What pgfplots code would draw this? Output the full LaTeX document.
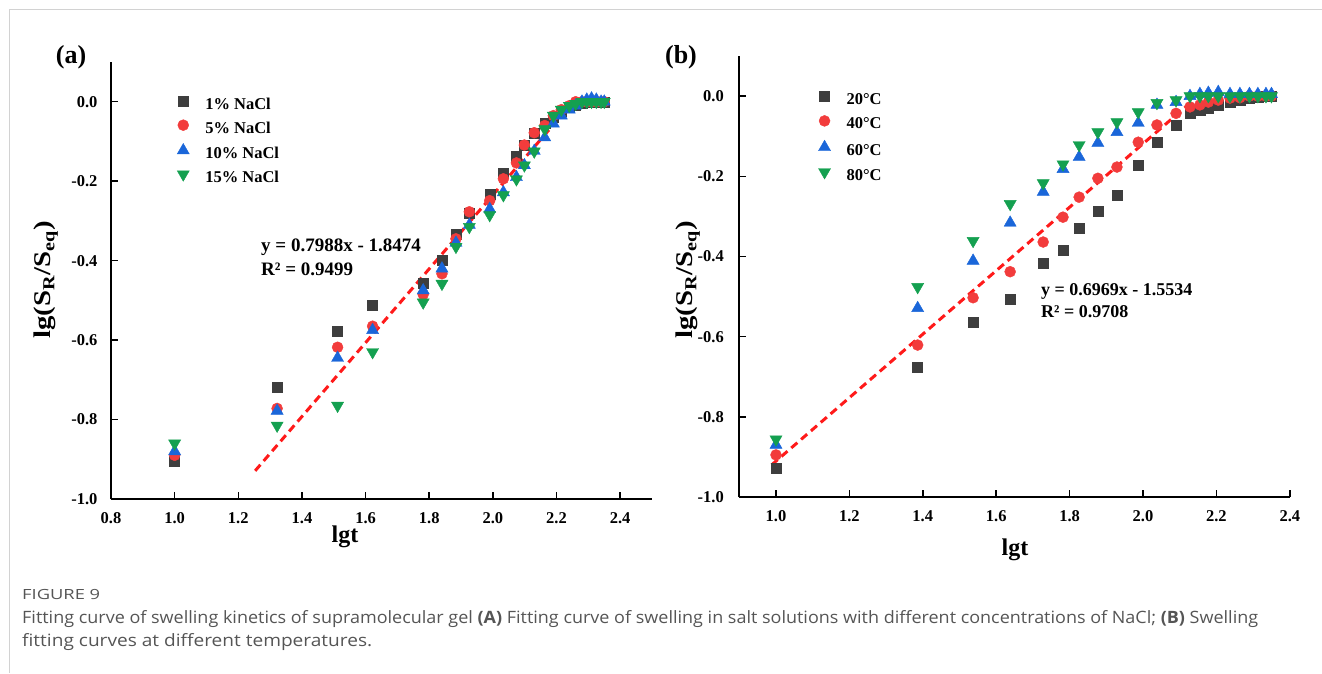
\documentclass[border=0pt]{standalone}
\usepackage{pgfplots}
\pgfplotsset{compat=1.18}
\usepackage{fontspec}
\setmainfont{Liberation Serif}
\newfontfamily\capfont{Open Sans}

\definecolor{cSq}{HTML}{3E3E3E}
\definecolor{cCi}{HTML}{F23C3C}
\definecolor{cUp}{HTML}{1A66D9}
\definecolor{cDn}{HTML}{14A050}
\definecolor{cFit}{HTML}{FF1A1A}
\definecolor{capgray}{HTML}{555555}

\pgfplotsset{
  panel/.style={
    scale only axis,
    axis lines=left,
    axis line style={-, line width=1.8pt},
    tick align=inside,
    major tick length=7pt,
    tick style={line width=1.5pt, black},
    ymin=-1.0, ymax=0.1,
    ytick={-1,-0.8,-0.6,-0.4,-0.2,0},
    ticklabel style={font=\fontsize{16.5}{16.5}\selectfont\bfseries},
    /pgf/number format/fixed,
    /pgf/number format/fixed zerofill,
    /pgf/number format/precision=1,
    /pgf/number format/assume math mode=true,
    xticklabel style={yshift=-10pt},
    clip=false,
    legend cell align=left,
    legend image code/.code={\path[draw=none,fill=none] (-6pt,-3pt) rectangle (22pt,10pt);
      \draw[##1] plot coordinates {(0pt,4.5pt)};},
  },
  sq/.style={only marks, mark=square*, mark size=5pt, color=cSq},
  ci/.style={only marks, mark=*, mark size=5.5pt, color=cCi},
  up/.style={only marks, mark=triangle*, mark size=7pt, color=cUp},
  dn/.style={only marks, mark=triangle*, mark size=7pt, color=cDn, mark options={rotate=180}},
  fit/.style={cFit, line width=3pt, dash pattern=on 8pt off 5pt},
}

\begin{document}
\begin{tikzpicture}
\path[use as bounding box] (0pt,0pt) rectangle (1322pt,-673pt);
\draw[gray!35, line width=1pt] (9pt,-673pt) -- (9pt,-9pt) -- (1322pt,-9pt);

% ---------------- (a) NaCl ----------------
\begin{axis}[panel,
  at={(111pt,-499pt)}, anchor=south west,
  width=541pt, height=437pt,
  xmin=0.8, xmax=2.5,
  xtick={0.8,1,1.2,1.4,1.6,1.8,2,2.2,2.4},
  yticklabel style={xshift=-10pt},
  legend style={at={(0.122,0.923)}, anchor=north west, draw=none, fill=none,
    inner sep=0pt, row sep=7.3pt, font=\fontsize{16.5}{16.5}\selectfont\bfseries,
    nodes={inner sep=0pt, text height=10pt, text depth=3pt}},
]
\addplot[sq] coordinates {
(1.0,-0.905) (1.322,-0.718) (1.512,-0.578) (1.622,-0.513) (1.781,-0.456)
(1.840,-0.400) (1.884,-0.333) (1.926,-0.280) (1.990,-0.232) (2.033,-0.181)
(2.074,-0.136) (2.099,-0.110) (2.130,-0.078) (2.163,-0.055) (2.190,-0.040)
(2.215,-0.025) (2.240,-0.015) (2.260,-0.008) (2.280,-0.004) (2.295,-0.002)
(2.310,0.0) (2.325,0.0) (2.340,0.0) (2.350,0.0)};
\addplot[ci] coordinates {
(1.0,-0.890) (1.322,-0.772) (1.512,-0.618) (1.622,-0.565) (1.781,-0.485)
(1.840,-0.433) (1.884,-0.345) (1.926,-0.277) (1.990,-0.249) (2.033,-0.194)
(2.074,-0.154) (2.099,-0.109) (2.130,-0.078) (2.163,-0.060) (2.190,-0.035)
(2.215,-0.020) (2.240,-0.010) (2.260,0.0) (2.280,0.0) (2.295,0.0)
(2.310,0.0) (2.325,0.0) (2.340,0.0) (2.350,0.0)};
\addplot[up] coordinates {
(1.0,-0.880) (1.322,-0.778) (1.512,-0.645) (1.622,-0.575) (1.781,-0.475)
(1.840,-0.420) (1.884,-0.355) (1.926,-0.310) (1.990,-0.270) (2.033,-0.228)
(2.074,-0.190) (2.099,-0.160) (2.130,-0.124) (2.163,-0.090) (2.190,-0.055)
(2.215,-0.035) (2.240,-0.020) (2.260,-0.010) (2.280,0.0) (2.295,0.005)
(2.310,0.008) (2.325,0.005) (2.340,0.0) (2.350,0.0)};
\addplot[dn] coordinates {
(1.0,-0.860) (1.322,-0.815) (1.512,-0.765) (1.622,-0.630) (1.781,-0.505)
(1.840,-0.458) (1.884,-0.365) (1.926,-0.315) (1.990,-0.285) (2.033,-0.235)
(2.074,-0.195) (2.099,-0.160) (2.130,-0.125) (2.163,-0.069) (2.190,-0.035)
(2.215,-0.020) (2.240,-0.010) (2.260,-0.005) (2.280,0.0) (2.295,0.0)
(2.310,0.0) (2.325,0.0) (2.340,0.0) (2.350,0.0)};
\addplot[fit, forget plot] coordinates {(1.253,-0.929) (2.26,0.007)};
\legend{1\% NaCl, 5\% NaCl, 10\% NaCl, 15\% NaCl}
\end{axis}

% ---------------- (b) temperature ----------------
\begin{axis}[panel,
  at={(739.3pt,-497pt)}, anchor=south west,
  width=550.5pt, height=441pt,
  xmin=0.9, xmax=2.4,
  xtick={1,1.2,1.4,1.6,1.8,2,2.2,2.4},
  yticklabel style={xshift=-12pt},
  legend style={at={(0.1435,0.922)}, anchor=north west, draw=none, fill=none,
    inner sep=0pt, row sep=8.3pt, font=\fontsize{16.5}{16.5}\selectfont\bfseries,
    nodes={inner sep=0pt, text height=10pt, text depth=3pt}},
]
\addplot[sq] coordinates {
(1.0,-0.928) (1.386,-0.675) (1.537,-0.563) (1.638,-0.507) (1.728,-0.417)
(1.782,-0.384) (1.826,-0.329) (1.877,-0.287) (1.929,-0.247) (1.987,-0.172)
(2.038,-0.115) (2.090,-0.072) (2.128,-0.043) (2.155,-0.035) (2.178,-0.030)
(2.205,-0.022) (2.237,-0.015) (2.264,-0.010) (2.290,-0.005) (2.313,-0.002)
(2.335,0.0) (2.350,0.0)};
\addplot[ci] coordinates {
(1.0,-0.895) (1.386,-0.621) (1.537,-0.503) (1.638,-0.438) (1.728,-0.364)
(1.782,-0.302) (1.826,-0.252) (1.877,-0.205) (1.929,-0.177) (1.987,-0.115)
(2.038,-0.072) (2.090,-0.043) (2.128,-0.027) (2.155,-0.022) (2.178,-0.015)
(2.205,-0.010) (2.237,-0.005) (2.264,-0.004) (2.290,0.0) (2.313,0.0)
(2.335,0.0) (2.350,0.0)};
\addplot[up] coordinates {
(1.0,-0.870) (1.386,-0.529) (1.537,-0.411) (1.638,-0.316) (1.728,-0.239)
(1.782,-0.182) (1.826,-0.152) (1.877,-0.117) (1.929,-0.090) (1.987,-0.067)
(2.038,-0.022) (2.090,-0.015) (2.128,0.0) (2.155,0.005) (2.178,0.008)
(2.205,0.010) (2.237,0.005) (2.264,0.005) (2.290,0.005) (2.313,0.005)
(2.335,0.005) (2.350,0.005)};
\addplot[dn] coordinates {
(1.0,-0.856) (1.386,-0.476) (1.537,-0.361) (1.638,-0.269) (1.728,-0.217)
(1.782,-0.170) (1.826,-0.122) (1.877,-0.090) (1.929,-0.065) (1.987,-0.040)
(2.038,-0.017) (2.090,-0.010) (2.128,0.0) (2.155,0.0) (2.178,0.0)
(2.205,0.0) (2.237,0.0) (2.264,0.0) (2.290,0.0) (2.313,0.0)
(2.335,0.0) (2.350,0.0)};
\addplot[fit, forget plot] coordinates {(0.988,-0.920) (2.14,-0.008)};
\legend{20°C, 40°C, 60°C, 80°C}
\end{axis}

% ---------------- panel texts ----------------
\node[font=\fontsize{26}{26}\selectfont\bfseries] at (71pt,-57pt) {(a)};
\node[font=\fontsize{26}{26}\selectfont\bfseries] at (681pt,-57pt) {(b)};
\node[rotate=90, font=\fontsize{24}{24}\selectfont\bfseries] at (46pt,-280pt)
  {\scalebox{1.2}[1]{lg(S\textsubscript{R}/S\textsubscript{eq})}};
\node[rotate=90, font=\fontsize{24}{24}\selectfont\bfseries] at (688pt,-280pt)
  {\scalebox{1.2}[1]{lg(S\textsubscript{R}/S\textsubscript{eq})}};
\node[font=\fontsize{24}{24}\selectfont\bfseries] at (345pt,-537pt) {lgt};
\node[font=\fontsize{24}{24}\selectfont\bfseries] at (1015pt,-550pt) {lgt};
\node[anchor=west, inner sep=0pt, align=left, font=\fontsize{19}{24}\selectfont\bfseries]
  at (261pt,-257pt) {y = 0.7988x - 1.8474\\R² = 0.9499};
\node[anchor=west, inner sep=0pt, align=left, font=\fontsize{18}{22}\selectfont\bfseries]
  at (1041pt,-301pt) {y = 0.6969x - 1.5534\\R² = 0.9708};

% ---------------- caption ----------------
\node[anchor=west, inner sep=0pt, text=capgray, font=\capfont\fontsize{14}{14}\selectfont]
  at (22pt,-594pt) {\resizebox{78pt}{\height}{FIGURE 9}};
\node[anchor=west, inner sep=0pt, text=capgray, font=\capfont\fontsize{17}{17}\selectfont]
  at (22pt,-619pt) {\resizebox{1236pt}{\height}{Fitting curve of swelling kinetics of supramolecular gel \textbf{(A)} Fitting curve of swelling in salt solutions with different concentrations of NaCl; \textbf{(B)} Swelling}};
\node[anchor=west, inner sep=0pt, text=capgray, font=\capfont\fontsize{17}{17}\selectfont]
  at (22pt,-642pt) {\resizebox{350pt}{\height}{fitting curves at different temperatures.}};
\end{tikzpicture}
\end{document}
